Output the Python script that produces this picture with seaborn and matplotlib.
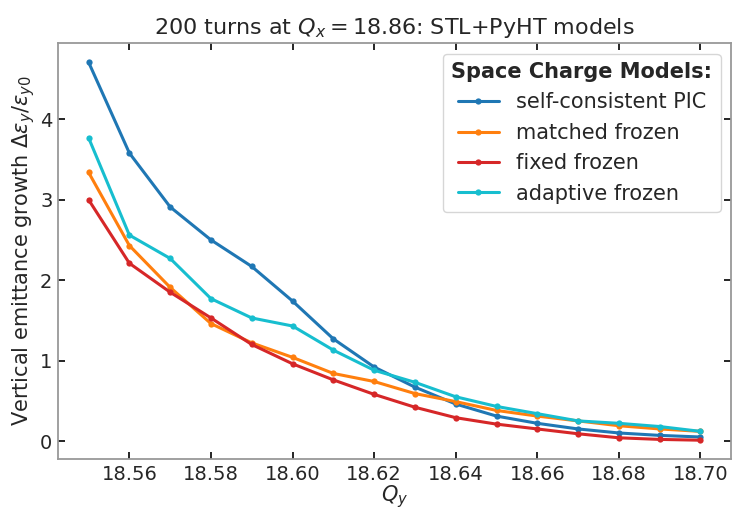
import matplotlib
matplotlib.use("Agg")
import matplotlib.pyplot as plt
import seaborn as sns
import pandas as pd

qy = [18.55, 18.56, 18.57, 18.58, 18.59, 18.60, 18.61, 18.62,
      18.63, 18.64, 18.65, 18.66, 18.67, 18.68, 18.69, 18.70]
pic = [4.71, 3.58, 2.91, 2.50, 2.17, 1.74, 1.27, 0.92,
       0.67, 0.46, 0.31, 0.22, 0.15, 0.10, 0.07, 0.05]
matched = [3.34, 2.43, 1.91, 1.46, 1.22, 1.04, 0.84, 0.74,
           0.59, 0.49, 0.38, 0.31, 0.25, 0.19, 0.15, 0.12]
fixed = [3.00, 2.21, 1.85, 1.53, 1.20, 0.96, 0.76, 0.58,
         0.42, 0.29, 0.21, 0.15, 0.09, 0.04, 0.02, 0.01]
adaptive = [3.77, 2.56, 2.27, 1.77, 1.53, 1.43, 1.13, 0.88,
            0.73, 0.55, 0.43, 0.34, 0.25, 0.22, 0.18, 0.12]
labels = ["self-consistent PIC", "matched frozen", "fixed frozen", "adaptive frozen"]
colors = ["#1f77b4", "#ff7f0e", "#d62728", "#17becf"]

rows = []
for lab, vals in zip(labels, [pic, matched, fixed, adaptive]):
    for q, v in zip(qy, vals):
        rows.append({"Qy": q, "growth": v, "model": lab})
df = pd.DataFrame(rows)

sns.set_theme(style="ticks", rc={
    "xtick.direction": "in", "ytick.direction": "in",
    "xtick.top": True, "ytick.right": True,
    "axes.edgecolor": "#999999",
})
plt.rcParams["font.family"] = ["DejaVu Sans"]
plt.rcParams["text.color"] = "#262626"

fig, ax = plt.subplots(figsize=(7.34, 5.09), dpi=100)
sns.lineplot(data=df, x="Qy", y="growth", hue="model", hue_order=labels,
             palette=colors, marker="o", markersize=4.5, markeredgewidth=0,
             linewidth=2.2, ax=ax)

ax.set_xticks([18.56, 18.58, 18.60, 18.62, 18.64, 18.66, 18.68, 18.70])
ax.set_xticklabels(["18.56", "18.58", "18.60", "18.62", "18.64", "18.66", "18.68", "18.70"])
ax.tick_params(axis="both", labelsize=14, colors="black", labelcolor="#262626",
               length=5, width=1.2, top=True, right=True, pad=4)
ax.set_xlabel(r"$Q_y$", fontsize=15, labelpad=0)
ax.set_ylabel(r"Vertical emittance growth $\Delta\varepsilon_y/\varepsilon_{y0}$", fontsize=15, labelpad=2)
ax.set_title(r"200 turns at $Q_x = 18.86$: STL+PyHT models", fontsize=16, pad=7)
for s in ax.spines.values():
    s.set_linewidth(1.3)

leg = ax.legend(title="Space Charge Models:", loc="upper right", fontsize=15,
                title_fontsize=15, frameon=True, borderpad=0.4, handlelength=2.0)
leg.get_title().set_fontweight("bold")

fig.subplots_adjust(left=0.079, right=0.996, top=0.915, bottom=0.098)
fig.savefig("out.png", dpi=100)
